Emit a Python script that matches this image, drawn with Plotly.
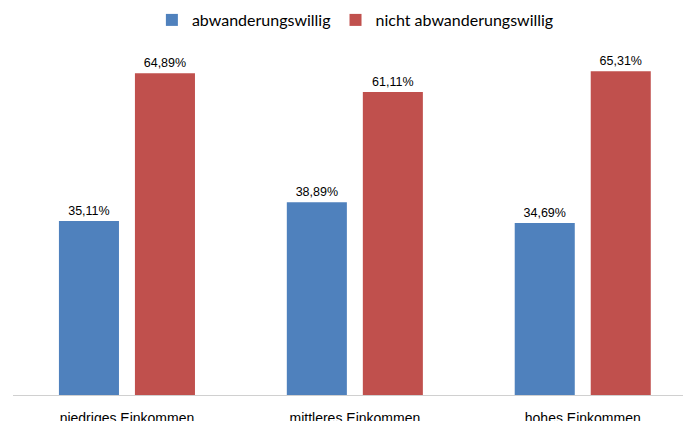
import plotly.graph_objects as go

categories = ["niedriges Einkommen", "mittleres Einkommen", "hohes Einkommen"]
series_names = ["abwanderungswillig", "nicht abwanderungswillig"]
abwanderungswillig = [0.3511, 0.3889, 0.3469]
nicht_abwanderungswillig = [0.6489, 0.6111, 0.6531]
colors = ["#4F81BD", "#C0504D"]

fig = go.Figure()
for name, vals, col in zip(series_names, [abwanderungswillig, nicht_abwanderungswillig], colors):
    fig.add_trace(go.Bar(
        x=categories, y=vals, name=name, marker_color=col,
        marker_line_width=0,
        texttemplate="%{y:.2%}", textposition="outside",
        textfont=dict(family="Liberation Sans, Arial", size=12.5, color="#000000"),
        cliponaxis=False,
    ))

fig.update_layout(
    width=691, height=421,
    margin=dict(l=5, r=8, t=40, b=34, autoexpand=False),
    paper_bgcolor="white", plot_bgcolor="white",
    separators=",.",
    barmode="group", bargap=0.333, bargroupgap=0.21,
    showlegend=True,
    legend=dict(orientation="h", x=0.505, xanchor="center", y=0.9715, yanchor="middle",
                yref="container",
                font=dict(family="Lato, Open Sans", size=16, color="#000000"),
                itemwidth=30, traceorder="normal"),
    xaxis=dict(range=[-0.5, 2.475], showline=True, linecolor="#D0D0D0", linewidth=1,
               showgrid=False, zeroline=False, ticks="", automargin=False,
               tickfont=dict(family="Liberation Sans, Arial", size=14, color="#000000"),
               ticklabelstandoff=10),
    yaxis=dict(range=[0, 0.7], visible=False, showgrid=False, zeroline=False,
               automargin=False),
)

fig.write_html("out.html")
